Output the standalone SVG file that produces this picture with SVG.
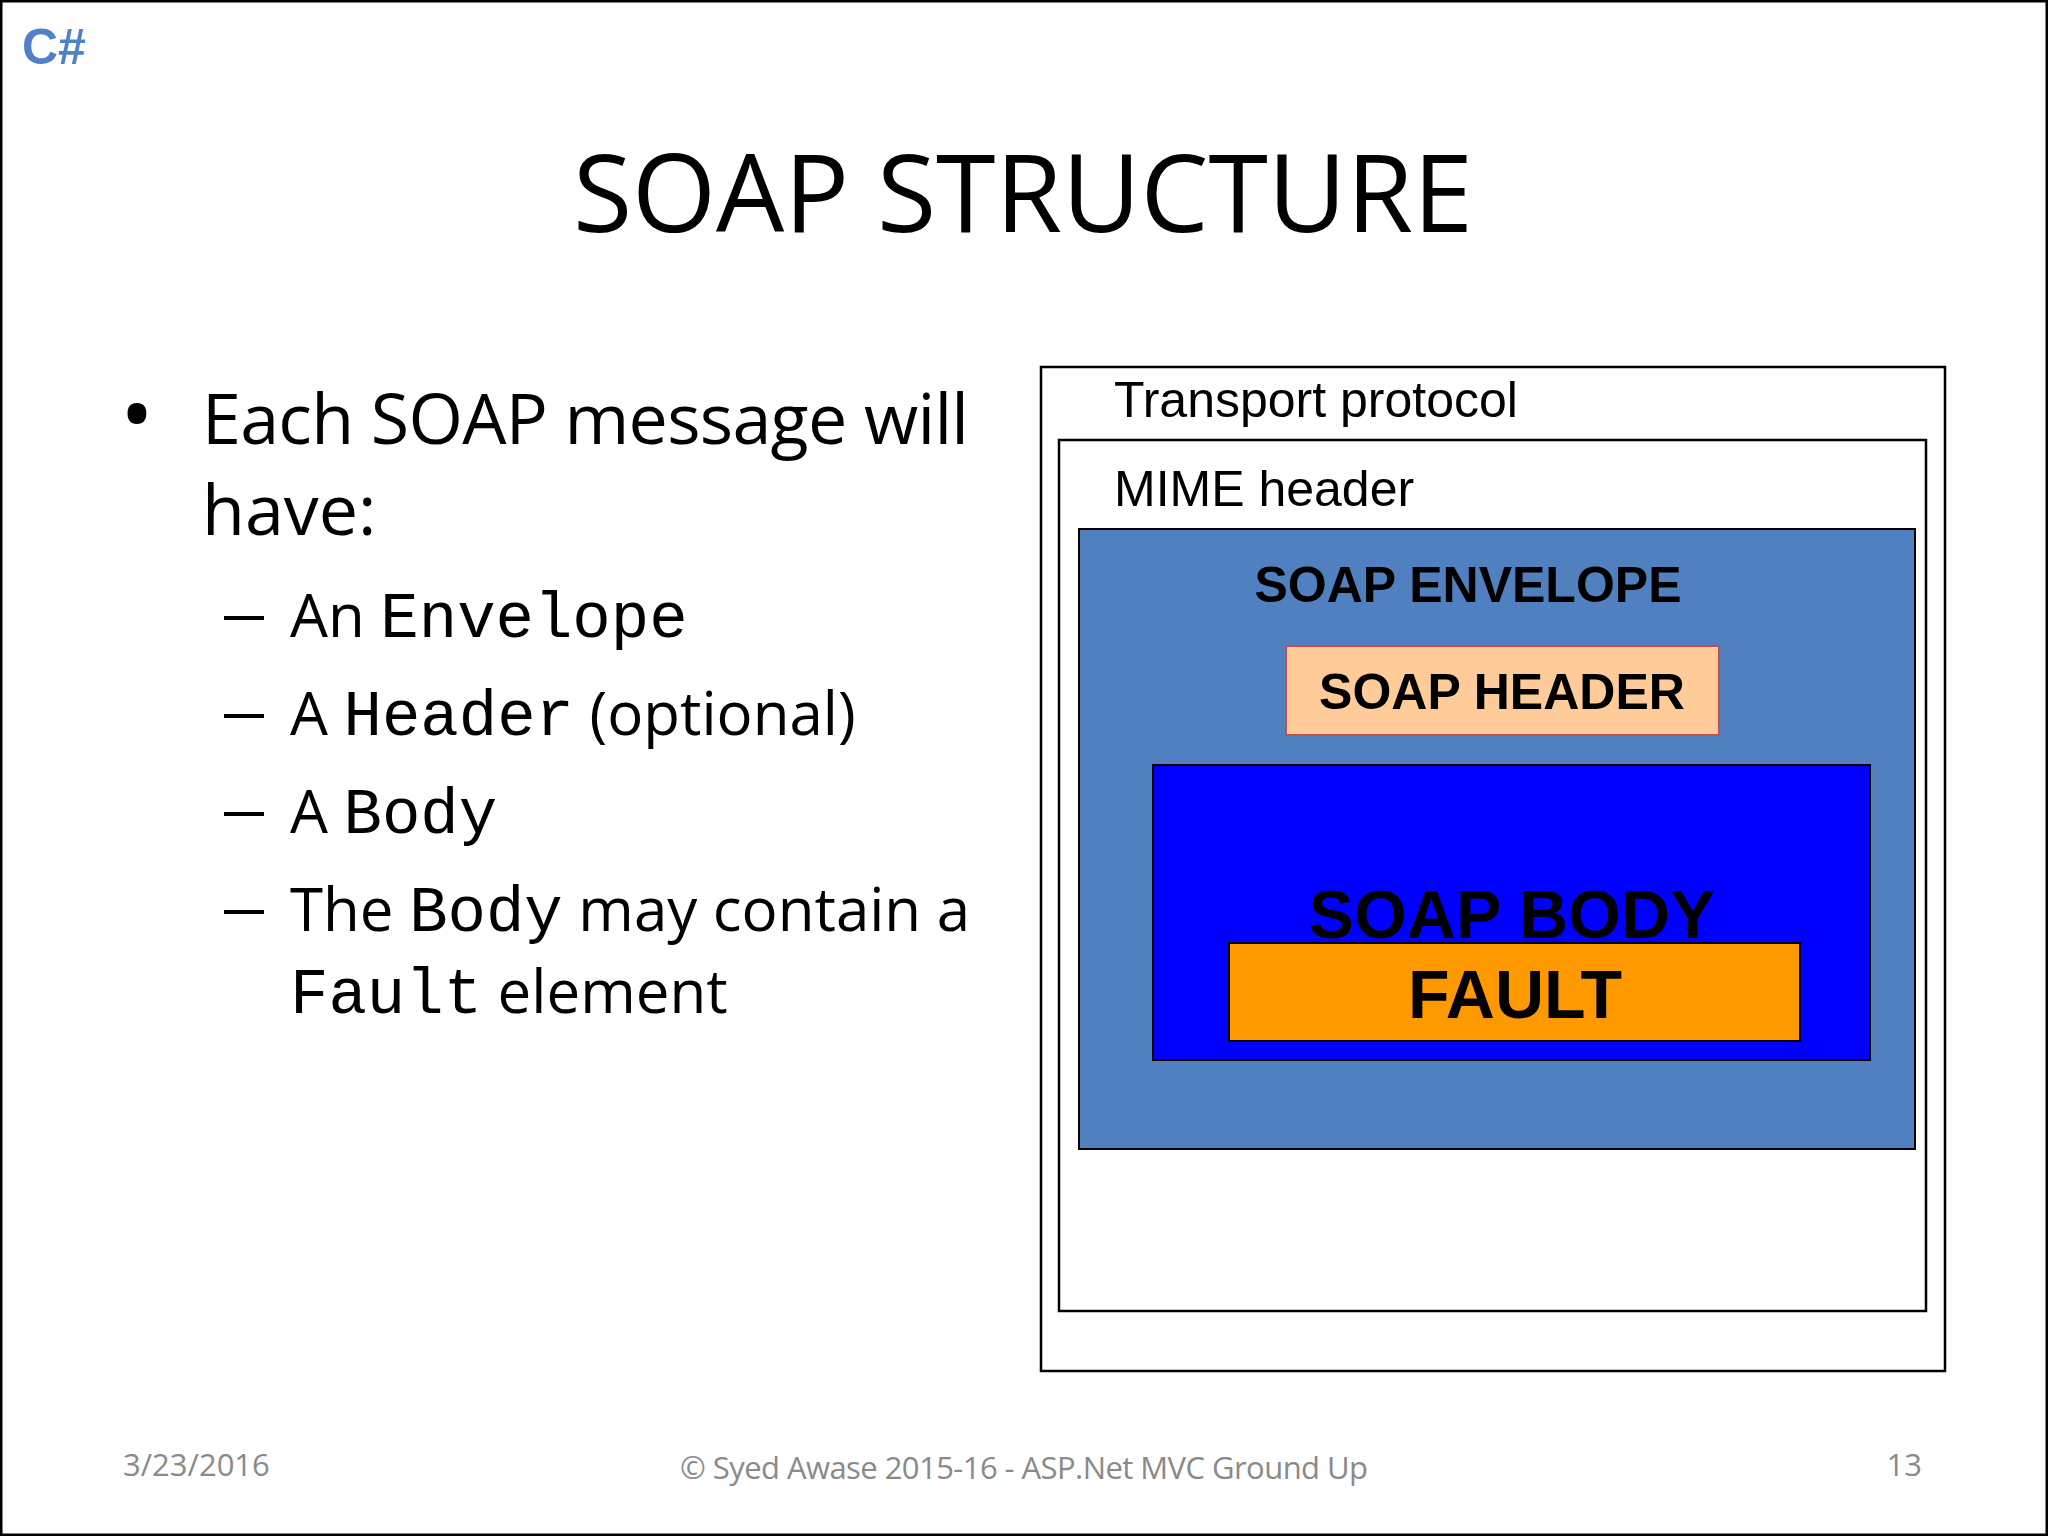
<svg xmlns="http://www.w3.org/2000/svg" width="2048" height="1536" viewBox="0 0 2048 1536">
<style>
.c{font-family:"Open Sans","Noto Sans",sans-serif;fill:#000}
.m{font-family:"Liberation Mono",monospace;font-size:64px}
.a{font-family:"Liberation Sans",Arial,sans-serif;fill:#000}
.b{font-weight:bold}
.f{font-family:"Open Sans",sans-serif;fill:#8a8a8a;font-size:31px}
</style>
<rect x="1" y="1" width="2046" height="1534" fill="#fff" stroke="#000" stroke-width="3"/>
<text x="22" y="64" font-family="Liberation Sans,Arial,sans-serif" font-weight="bold" font-size="50" fill="#4f81c7">C#</text>
<text class="c" x="1023" y="232" font-size="108" text-anchor="middle" textLength="900">SOAP STRUCTURE</text>
<g id="bullets" class="c">
<text x="120" y="446" font-size="90">•</text>
<text x="202" y="444" font-size="70" textLength="767">Each SOAP message will</text>
<text x="202" y="535" font-size="70">have:</text>
<g font-size="60">
<rect x="224" y="616" width="40" height="4" fill="#000"/><text x="290" y="637">An <tspan class="m">Envelope</tspan></text>
<rect x="224" y="714" width="40" height="4" fill="#000"/><text x="290" y="735">A <tspan class="m">Header</tspan> (optional)</text>
<rect x="224" y="812" width="40" height="4" fill="#000"/><text x="290" y="833">A <tspan class="m">Body</tspan></text>
<rect x="224" y="910" width="40" height="4" fill="#000"/><text x="290" y="931">The <tspan class="m">Body</tspan> may contain a</text>
<text x="290" y="1013"><tspan class="m">Fault</tspan> element</text>
</g>
</g>
<g id="transport"><rect x="1041" y="367" width="904" height="1004" fill="#fff" stroke="#000" stroke-width="2.5"/>
<text class="a" x="1114" y="417" font-size="50">Transport protocol</text></g>
<g id="mime"><rect x="1059" y="440" width="867" height="871" fill="#fff" stroke="#000" stroke-width="2.5"/>
<text class="a" x="1114" y="506" font-size="50">MIME header</text></g>
<g id="envelope"><rect x="1079" y="529" width="836" height="620" fill="#5080c0" stroke="#000" stroke-width="2"/>
<text class="a b" x="1468" y="602" font-size="50" text-anchor="middle">SOAP ENVELOPE</text></g>
<g id="header"><rect x="1286" y="646" width="433" height="89" fill="#ffcc99" stroke="#c0504d" stroke-width="2"/>
<text class="a b" x="1502" y="709" font-size="50" text-anchor="middle">SOAP HEADER</text></g>
<g id="body"><rect x="1153" y="765" width="717" height="295" fill="#0000ff" stroke="#000" stroke-width="2"/>
<text class="a b" x="1512" y="938" font-size="68" text-anchor="middle">SOAP BODY</text></g>
<g id="fault"><rect x="1229" y="943" width="571" height="98" fill="#ff9900" stroke="#000" stroke-width="2"/>
<text class="a b" x="1515" y="1018" font-size="68" text-anchor="middle">FAULT</text></g>
<g id="connectors"/>
<text class="f" x="123" y="1476">3/23/2016</text>
<text class="f" x="1024" y="1479" text-anchor="middle" textLength="688">© Syed Awase 2015-16 - ASP.Net MVC Ground Up</text>
<text class="f" x="1922" y="1476" text-anchor="end">13</text>
</svg>
